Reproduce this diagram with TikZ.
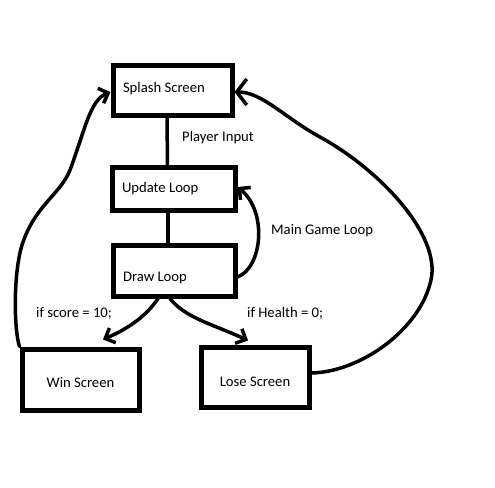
\documentclass[tikz,border=0pt]{standalone}
\usepackage{fontspec}
\setmainfont{Carlito}
\usetikzlibrary{arrows.meta}

\begin{document}
\begin{tikzpicture}[x=1pt,y=-1pt]
% estilos de linea y texto
\tikzstyle{letra} = [font=\fontsize{14.67pt}{17.6pt}\selectfont]
\tikzstyle{caja} = [letra, draw, line width=5pt, inner sep=0pt, text depth=0pt]
\tikzstyle{linea} = [line width=3.5pt, line cap=round, line join=round]
\tikzstyle{flecha} = [linea, -{Straight Barb[length=8pt,width=16pt]}]
\tikzstyle{rotulo} = [letra, inner sep=0pt, anchor=base west]
\useasboundingbox (0,0) rectangle (495,487);
% dibujar cajas
\node[caja, minimum width=119pt, minimum height=49pt, text width=99pt, align=flush left, text height=4.4pt] (splash) at (172.5,90.5) {Splash Screen};
\node[caja, minimum width=123pt, minimum height=43pt, text width=103pt, align=flush left, text height=8.4pt] (update) at (173.5,188.5) {Update Loop};
\node[caja, minimum width=122pt, minimum height=51pt, text width=102pt, align=flush left, text height=22.4pt] (drawl) at (174,270.5) {Draw Loop};
\node[caja, minimum width=117pt, minimum height=61pt, text height=16.4pt] (win) at (80.5,379.5) {Win Screen};
\node[caja, minimum width=108pt, minimum height=60pt, text height=19.4pt] (lose) at (255,377) {Lose Screen};
% dibujar rotulos
\node[rotulo] (entrada) at (182,141.7) {Player Input};
\node[rotulo] (bucle) at (271,234.7) {Main Game Loop};
\node[rotulo] (gana) at (36,317.7) {if score = 10;};
\node[rotulo] (pierde) at (247,317.7) {if Health = 0;};
% dibujar conexiones
\draw[linea] ([xshift=-5.5pt]splash.south) -- ([xshift=-6pt]update.north);
\draw[linea] ([xshift=-5.5pt]update.south) -- ([xshift=-6pt]drawl.north);
\draw[flecha] ([yshift=-6.5pt]drawl.east) .. controls (262,268) and (268,212) .. ([yshift=1.5pt]update.east);
\draw[flecha] ([xshift=-16pt]drawl.south) .. controls (145,318) and (125,330) .. ([xshift=22.5pt,yshift=7pt]win.north);
\draw[flecha] ([xshift=-4pt]drawl.south) .. controls (185,318) and (215,325) .. ([xshift=-7pt,yshift=4pt]lose.north);
\draw[flecha] (win.north west) .. controls (14,330) and (13,275) .. (22,245)
  .. controls (35,205) and (60,195) .. (70,170)
  .. controls (85,130) and (90,100) .. ([yshift=-1.5pt]splash.west);
\draw[flecha, -{Straight Barb[length=10pt,width=26pt]}] ([yshift=4pt]lose.east) .. controls (360,372) and (420,330) .. (431,280)
  .. controls (441,235) and (380,170) .. (320,137)
  .. controls (285,118) and (262,92) .. ([yshift=-1.5pt]splash.east);
\end{tikzpicture}
\end{document}
